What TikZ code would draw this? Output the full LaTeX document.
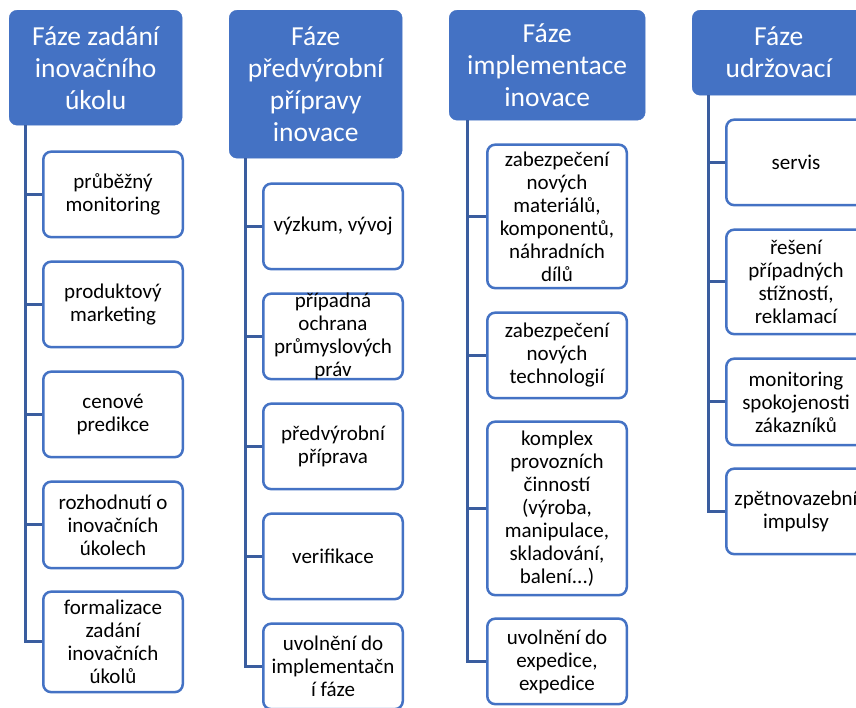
\documentclass[tikz,border=0pt]{standalone}
\usepackage{fontspec}
\setmainfont{Carlito}
\usepackage{tikz}
\usetikzlibrary{positioning}
\definecolor{phaseblue}{HTML}{4472C4}
\definecolor{trunkblue}{HTML}{3A5D9F}

\begin{document}
\begin{tikzpicture}[x=1pt, y=-1pt,
	phase/.style={rectangle, rounded corners=8pt, fill=phaseblue, draw=phaseblue, text=white, align=center, minimum width=173pt, inner sep=0pt, font=\fontsize{27.5}{32}\selectfont},
	item/.style={rectangle, rounded corners=8pt, draw=phaseblue, line width=2.5pt, fill=white, align=center, minimum width=139.5pt, minimum height=85.5pt, inner xsep=0pt, inner ysep=2pt, font=\fontsize{21}{23}\selectfont},
	trunk/.style={draw=trunkblue, line width=3pt},
	node distance=22pt]
			\useasboundingbox (0,0) rectangle (856,707);
			\clip (0,0) rectangle (856,707);
			\fill[white] (0,0) rectangle (856,707);
			
			% phase headers
			\node[phase, minimum height=115pt, anchor=north west] (h1) at (9,10) {Fáze zadání\\inovačního\\úkolu};
			\node[phase, minimum height=148pt, anchor=north west] (h2) at (229,10) {Fáze\\předvýrobní\\přípravy\\inovace};
			\node[phase, minimum height=110pt, minimum width=196pt, anchor=north west] (h3) at (449,10) {Fáze\\implementace\\inovace};
			\node[phase, minimum height=85pt, anchor=north west] (h4) at (692,10) {Fáze\\udržovací};
			
			% first column
			\node[item, below right=25pt and 33pt of h1.south west] (a1) {průběžný\\monitoring};
			\node[item, below=of a1] (a2) {produktový\\marketing};
			\node[item, below=of a2] (a3) {cenové\\predikce};
			\node[item, below=of a3, minimum height=86.5pt] (a4) {rozhodnutí o\\inovačních\\úkolech};
			\node[item, below=21pt of a4, minimum height=100.5pt] (a5) {formalizace\\zadání\\inovačních\\úkolů};
			
			% second column
			\node[item, below right=24pt and 33pt of h2.south west] (b1) {výzkum, vývoj};
			\node[item, below=of b1, inner ysep=-4pt] (b2) {případná\\ochrana\\průmyslových\\práv};
			\node[item, below=of b2] (b3) {předvýrobní\\příprava};
			\node[item, below=of b3] (b4) {verifikace};
			\node[item, below=of b4] (b5) {uvolnění do\\implementačn\\í fáze};
			
			% third column
			\node[item, below right=23pt and 37pt of h3.south west, minimum height=143.5pt] (c1) {zabezpečení\\nových\\materiálů,\\komponentů,\\náhradních\\dílů};
			\node[item, below=of c1] (c2) {zabezpečení\\nových\\technologií};
			\node[item, below=21pt of c2, minimum height=173.5pt] (c3) {komplex\\provozních\\činností\\(výroba,\\manipulace,\\skladování,\\balení...)};
			\node[item, below=21pt of c3] (c4) {uvolnění do\\expedice,\\expedice};
			
			% fourth column
			\node[item, below right=23pt and 33pt of h4.south west] (d1) {servis};
			\node[item, below=of d1, minimum height=104.5pt] (d2) {řešení\\případných\\stížností,\\reklamací};
			\node[item, below=of d2, minimum height=86.5pt] (d3) {monitoring\\spokojenosti\\zákazníků};
			\node[item, below=21pt of d3] (d4) {zpětnovazební\\impulsy};
			
			% trunks
			\coordinate (t1) at ([xshift=16pt]h1.south west);
			\coordinate (t2) at ([xshift=16pt]h2.south west);
			\coordinate (t3) at ([xshift=18pt]h3.south west);
			\coordinate (t4) at ([xshift=16pt]h4.south west);
			\foreach \n in {a1,a2,a3,a4,a5} \draw[trunk] (t1) |- (\n.west);
			\foreach \n in {b1,b2,b3,b4,b5} \draw[trunk] (t2) |- (\n.west);
			\foreach \n in {c1,c2,c3,c4} \draw[trunk] (t3) |- (\n.west);
			\foreach \n in {d1,d2,d3,d4} \draw[trunk] (t4) |- (\n.west);
		\end{tikzpicture}
\end{document}
